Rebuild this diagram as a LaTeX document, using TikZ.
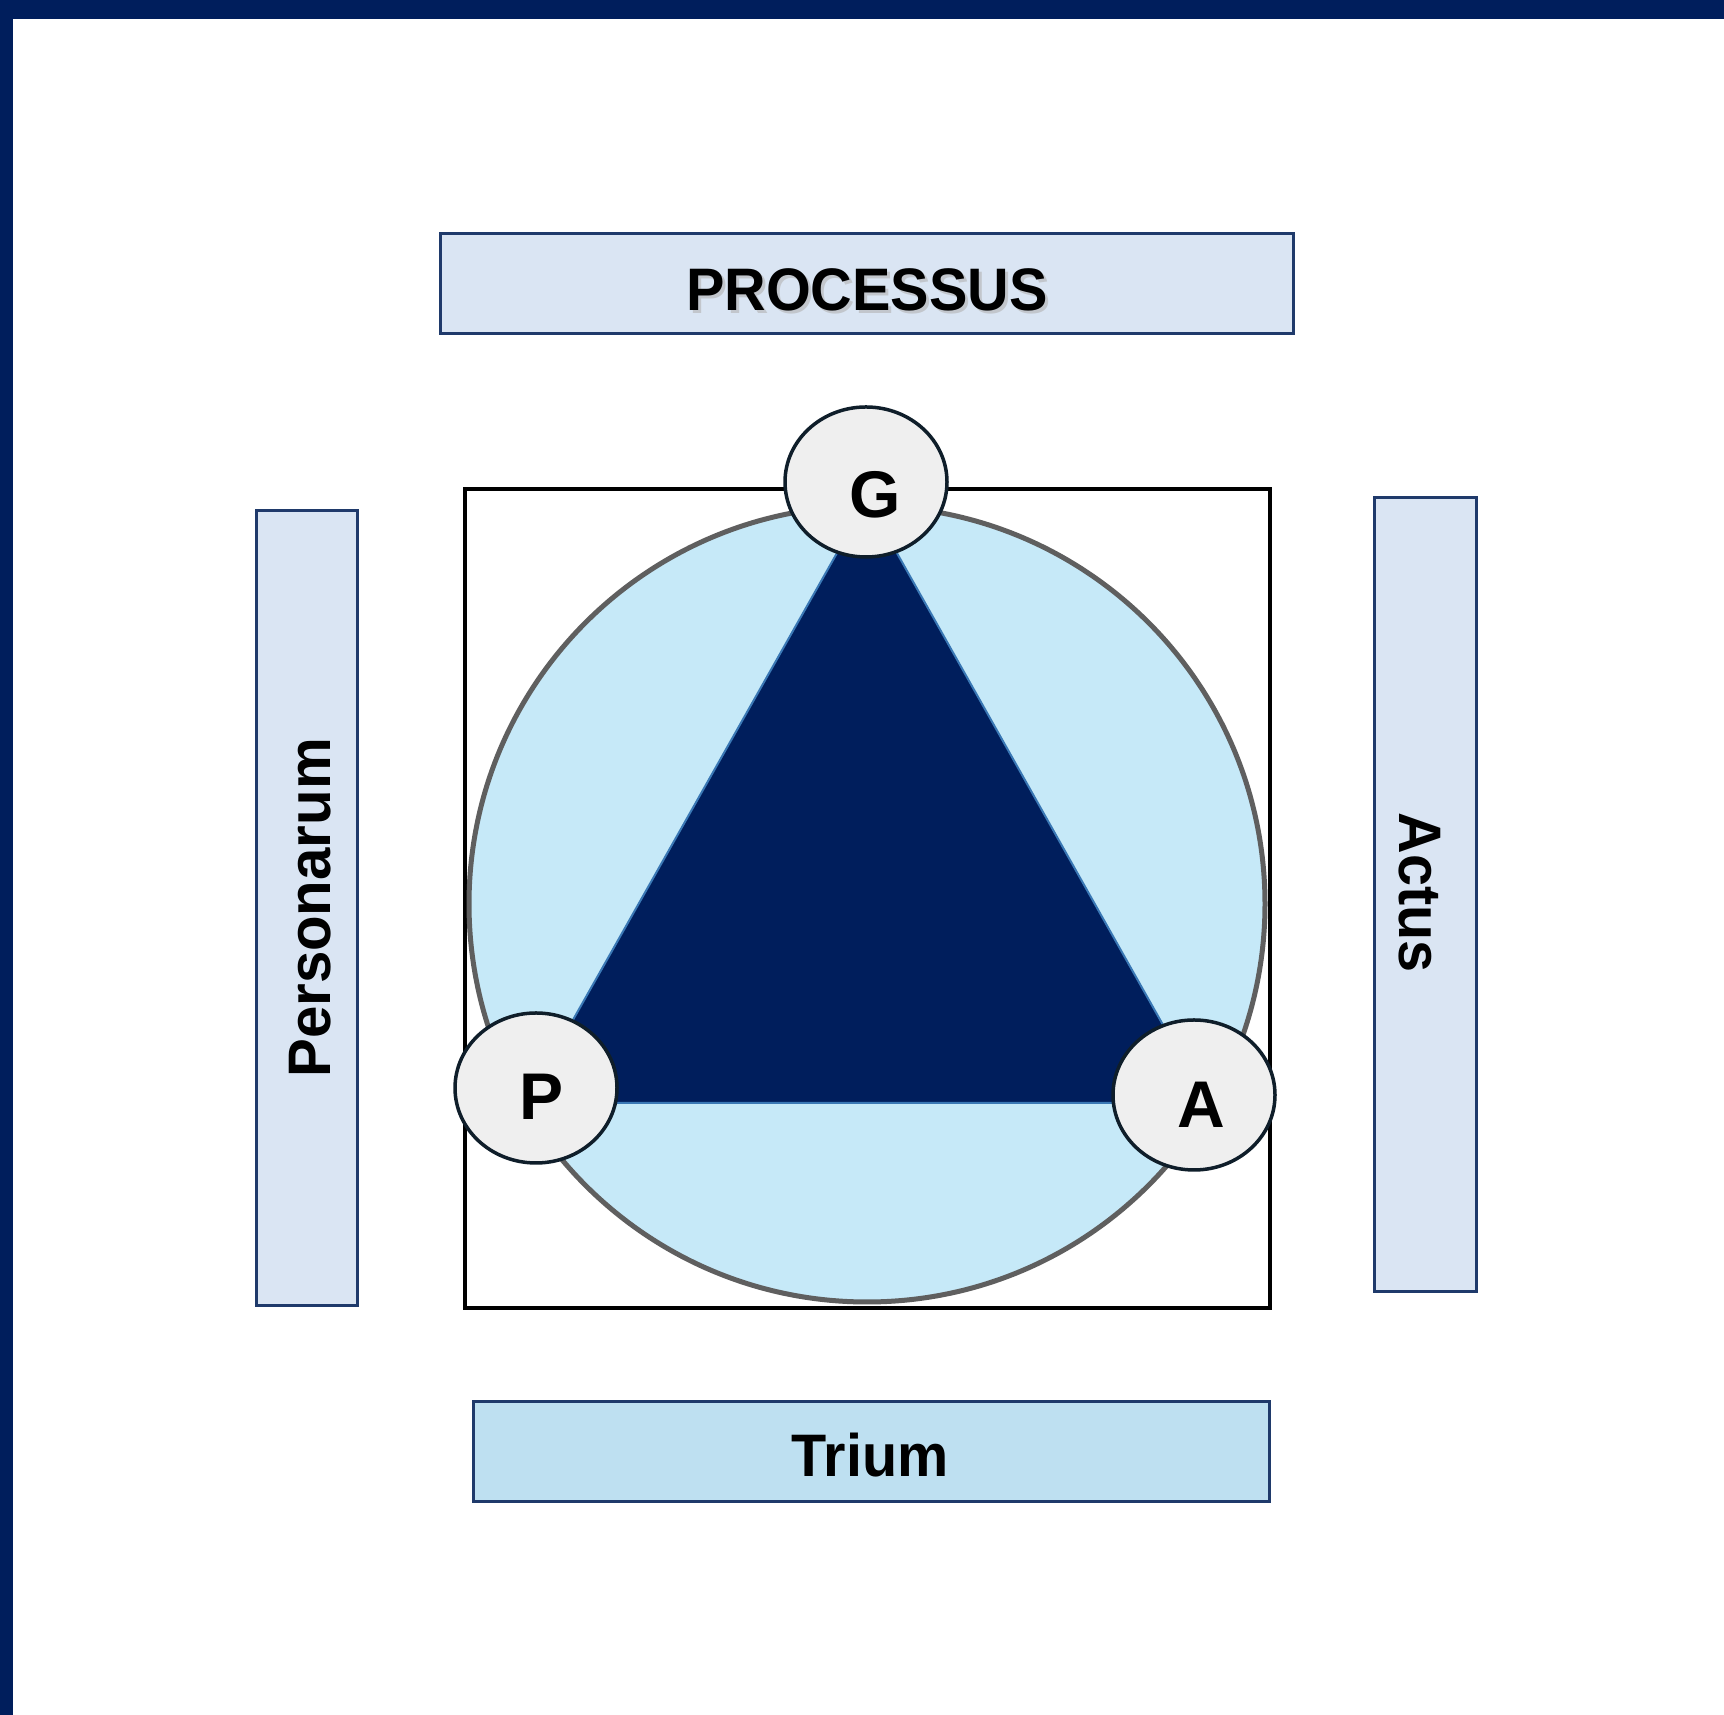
\documentclass[tikz,border=0pt]{standalone}
\usepackage{fontspec}
\setmainfont{Liberation Sans}
\usetikzlibrary{shapes.geometric}
\definecolor{navy}{HTML}{001E5C}
\definecolor{boxfill}{HTML}{DAE5F3}
\definecolor{boxfillb}{HTML}{BEE0F1}
\definecolor{boxline}{HTML}{1F3A6B}
\definecolor{disc}{HTML}{C6E9F8}
\definecolor{discline}{HTML}{5F5F5F}
\definecolor{triedge}{HTML}{3A78B5}
\definecolor{nodefill}{HTML}{EFEFEF}
\definecolor{nodeline}{HTML}{0F1E2A}
\tikzset{
  labelbox/.style={draw=boxline, line width=3pt, fill=boxfill},
  lbltext/.style={font=\bfseries\fontsize{60}{72}\selectfont, inner sep=0pt, text=black},
  vertexnode/.style={ellipse, draw=nodeline, line width=3.5pt, fill=nodefill,
    minimum width=162pt, minimum height=150pt, inner sep=0pt},
  lettr/.style={font=\bfseries\fontsize{66}{78}\selectfont, inner sep=0pt, text=black},
}
\begin{document}
\begin{tikzpicture}[x=1pt,y=1pt]
\useasboundingbox (0,0) rectangle (1724,1715);
\fill[white] (0,0) rectangle (1724,1715);
% frame bands
\fill[navy] (0,1696) rectangle (1724,1715);
\fill[navy] (0,0) rectangle (13,1715);
% label boxes
\draw[labelbox] (440,1381) rectangle (1293,1481);
\draw[labelbox] (256,409) rectangle (357,1204);
\draw[labelbox] (1374,423) rectangle (1476,1217);
\draw[labelbox, fill=boxfillb] (473,213) rectangle (1269,313);
% label texts
\node[lbltext, text=gray!60, opacity=0.6, xscale=0.96] at (870,1422) {PROCESSUS};
\node[lbltext, xscale=0.96] (proc) at (867,1425) {PROCESSUS};
\node[lbltext, rotate=90, xscale=0.97] (pers) at (310,807) {Personarum};
\node[lbltext, rotate=-90, xscale=0.96] (actus) at (1420,822) {Actus};
\node[lbltext, xscale=0.96] (trium) at (870,260) {Trium};
% square
\draw[black, line width=4.5pt] (465,407) rectangle (1270,1226);
% disc
\draw[discline, fill=disc, line width=5pt] (867,811) circle[radius=398];
% vertices
\coordinate (tG) at (867,1215);
\coordinate (tP) at (526,612);
\coordinate (tA) at (1207,612);
\draw[triedge, fill=navy, line width=2pt, line join=round] (tG) -- (tP) -- (tA) -- cycle;
% vertex nodes
\node[vertexnode] (G) at (866,1233) {};
\node[vertexnode] (P) at (536,627) {};
\node[vertexnode] (A) at (1194,620) {};
\node[lettr] at ([shift={(9,-13)}]G.center) {G};
\node[lettr] at ([shift={(6,-9)}]P.center) {P};
\node[lettr] at ([shift={(7,-10)}]A.center) {A};
\end{tikzpicture}
\end{document}
